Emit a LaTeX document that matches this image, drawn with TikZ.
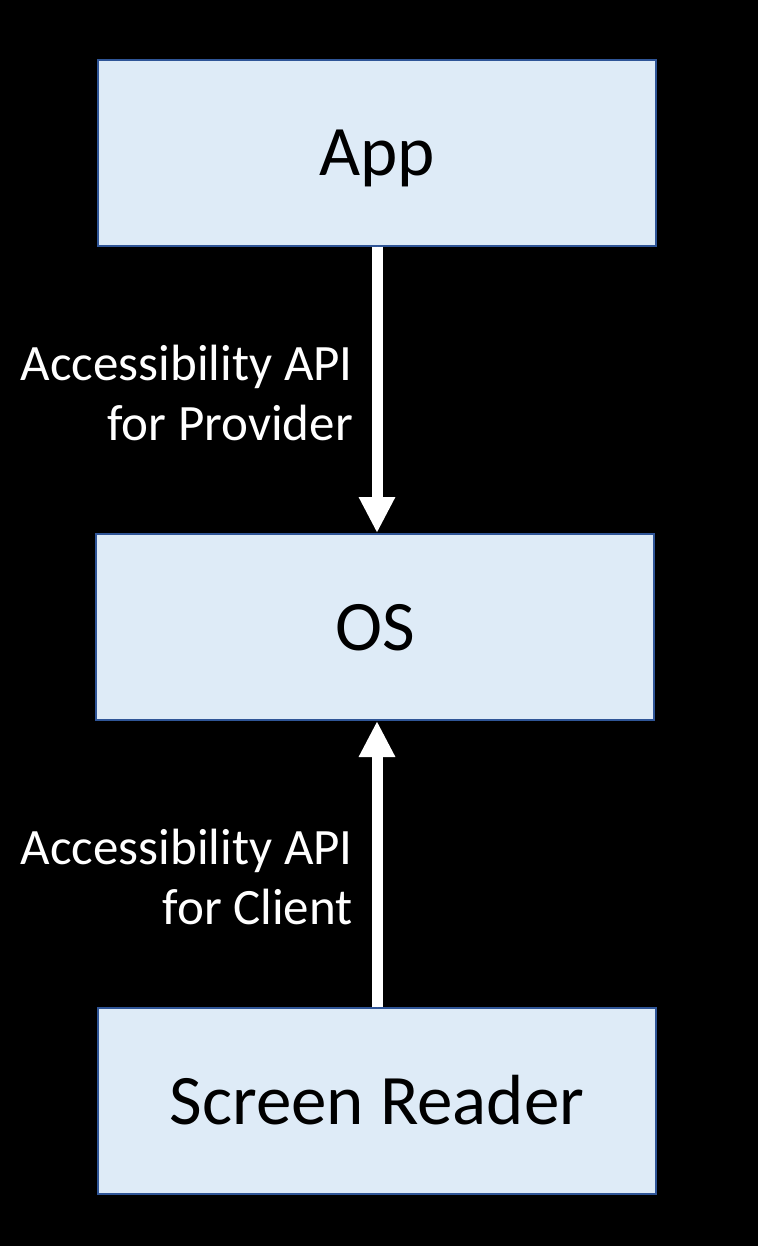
\documentclass[tikz,border=0pt]{standalone}
\usepackage{fontspec}
\setmainfont{Carlito}
\usetikzlibrary{arrows.meta}
\definecolor{boxfill}{HTML}{DEEBF7}
\definecolor{boxline}{HTML}{2F5597}
\tikzset{
  layerbox/.style={draw=boxline, line width=1.5pt, fill=boxfill, minimum width=558pt, minimum height=186pt, inner sep=0pt, font=\fontsize{71}{84}\selectfont, text=black, text height=46pt, text depth=0pt},
  apilabel/.style={text=white, align=right, anchor=east, font=\fontsize{51}{60}\selectfont, inner sep=0pt},
  apiarrow/.style={draw=white, line width=11pt, -{Triangle[width=34pt,length=36pt]}, fill=white}
}
\begin{document}
\begin{tikzpicture}[x=1pt,y=-1pt]
  \fill[black] (0,0) rectangle (758,1246);
  \useasboundingbox (0,0) rectangle (758,1246);
  \node[layerbox] (app) at (377,153) {App};
  \node[layerbox] (os) at (375,627) {OS};
  \node[layerbox] (sr) at (377,1101) {Screen Reader};
  \draw[apiarrow] (app.south -| 377,0) -- (377,533);
  \draw[apiarrow] (sr.north -| 377,0) -- (377,721);
  \node[apilabel] (l1) at (353,393) {Accessibility API\\for Provider};
  \node[apilabel] (l2) at (353,877) {Accessibility API\\for Client};
\end{tikzpicture}
\end{document}
